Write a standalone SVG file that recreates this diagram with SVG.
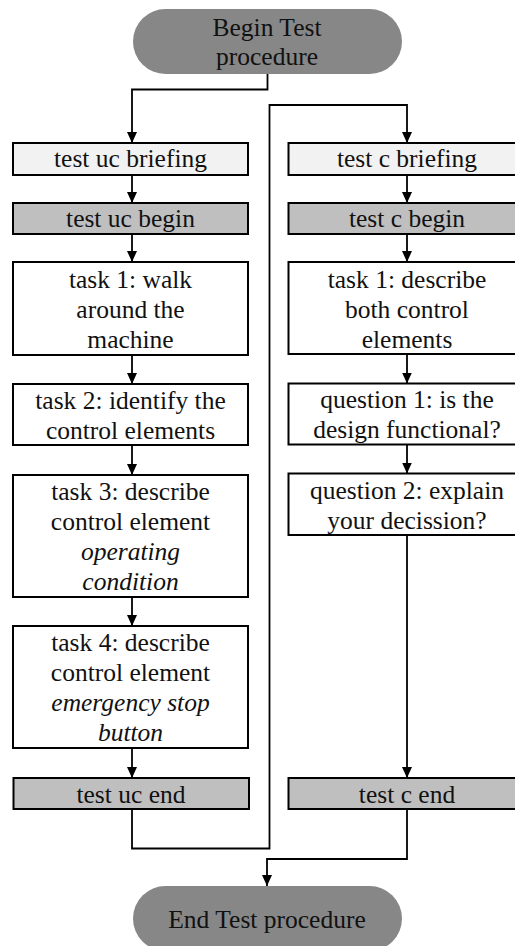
<svg xmlns="http://www.w3.org/2000/svg" width="515" height="946" viewBox="0 0 515 946" font-family="'Liberation Serif', 'Times New Roman', serif" font-size="25.5">
<defs>
<style>
.term{fill:#878787;stroke:none}
.box{stroke:#000;stroke-width:2;fill:#fff}
.light{fill:#f2f2f2}
.mid{fill:#bfbfbf}
text{font-family:'Liberation Serif', serif;font-size:25.5px;fill:#111;text-anchor:middle}
.it{font-style:italic}
.conn{fill:none;stroke:#000;stroke-width:1.8}
</style>
<marker id="arr" markerUnits="userSpaceOnUse" markerWidth="11" markerHeight="10" refX="11" refY="5" orient="auto" viewBox="0 0 11 10">
<path d="M0,0 L11,5 L0,10 z" fill="#000"/>
</marker>
</defs>
<rect width="515" height="946" fill="#fff"/>
<g id="connectors" class="conn">
<path d="M267.5 74 V89.5 H132 V143" marker-end="url(#arr)"/>
<path d="M132 175 V203" marker-end="url(#arr)"/>
<path d="M132 234 V262" marker-end="url(#arr)"/>
<path d="M132 355 V384" marker-end="url(#arr)"/>
<path d="M132 445 V475" marker-end="url(#arr)"/>
<path d="M132 597 V626" marker-end="url(#arr)"/>
<path d="M132 748 V778" marker-end="url(#arr)"/>
<path d="M132 809 V848.5 H269.5 V105 H407 V143" marker-end="url(#arr)"/>
<path d="M407 175 V203" marker-end="url(#arr)"/>
<path d="M407 234 V262" marker-end="url(#arr)"/>
<path d="M407 354 V383.5" marker-end="url(#arr)"/>
<path d="M407 444.5 V473.5" marker-end="url(#arr)"/>
<path d="M407 535 V778" marker-end="url(#arr)"/>
<path d="M407 809 V859 H267 V886" marker-end="url(#arr)"/>
</g>
<g id="begin">
<rect class="term" x="133" y="9" width="269" height="65" rx="32.5"/>
<text x="267" y="35.5">Begin Test</text>
<text x="267" y="65">procedure</text>
</g>
<g id="uc-briefing">
<rect class="box light" x="13" y="143" width="235" height="32"/>
<text x="130.5" y="167">test uc briefing</text>
</g>
<g id="uc-begin">
<rect class="box mid" x="13" y="203" width="235" height="31"/>
<text x="130.5" y="227">test uc begin</text>
</g>
<g id="uc-task1">
<rect class="box" x="13" y="262" width="235" height="93"/>
<text x="130.5" y="287.5">task 1: walk</text>
<text x="130.5" y="318">around the</text>
<text x="130.5" y="348">machine</text>
</g>
<g id="uc-task2">
<rect class="box" x="13" y="384" width="235" height="61"/>
<text x="130.5" y="408.5">task 2: identify the</text>
<text x="130.5" y="438.5">control elements</text>
</g>
<g id="uc-task3">
<rect class="box" x="13" y="475" width="235" height="122"/>
<text x="130.5" y="500">task 3: describe</text>
<text x="130.5" y="530">control element</text>
<text class="it" x="130.5" y="560">operating</text>
<text class="it" x="130.5" y="590">condition</text>
</g>
<g id="uc-task4">
<rect class="box" x="13" y="626" width="235" height="122"/>
<text x="130.5" y="650.5">task 4: describe</text>
<text x="130.5" y="680.5">control element</text>
<text class="it" x="130.5" y="710.5">emergency stop</text>
<text class="it" x="130.5" y="741">button</text>
</g>
<g id="uc-end">
<rect class="box mid" x="13.5" y="778" width="235.5" height="31"/>
<text x="131" y="802.5">test uc end</text>
</g>
<g id="c-briefing">
<rect class="box light" x="288.5" y="143" width="238" height="32"/>
<text x="407" y="167">test c briefing</text>
</g>
<g id="c-begin">
<rect class="box mid" x="288.5" y="203" width="238" height="31"/>
<text x="407" y="227">test c begin</text>
</g>
<g id="c-task1">
<rect class="box" x="288.5" y="262" width="238" height="92"/>
<text x="407" y="287.5">task 1: describe</text>
<text x="407" y="318">both control</text>
<text x="407" y="348">elements</text>
</g>
<g id="c-question1">
<rect class="box" x="288.5" y="383.5" width="238" height="61"/>
<text x="407" y="408">question 1: is the</text>
<text x="407" y="438">design functional?</text>
</g>
<g id="c-question2">
<rect class="box" x="288.5" y="473.5" width="238" height="61.5"/>
<text x="407" y="498.5">question 2: explain</text>
<text x="407" y="528.5">your decission?</text>
</g>
<g id="c-end">
<rect class="box mid" x="288.5" y="778" width="238" height="31"/>
<text x="407" y="802.5">test c end</text>
</g>
<g id="end">
<rect class="term" x="133" y="886" width="269" height="65" rx="32.5"/>
<text x="267" y="927.5">End Test procedure</text>
</g>
</svg>
